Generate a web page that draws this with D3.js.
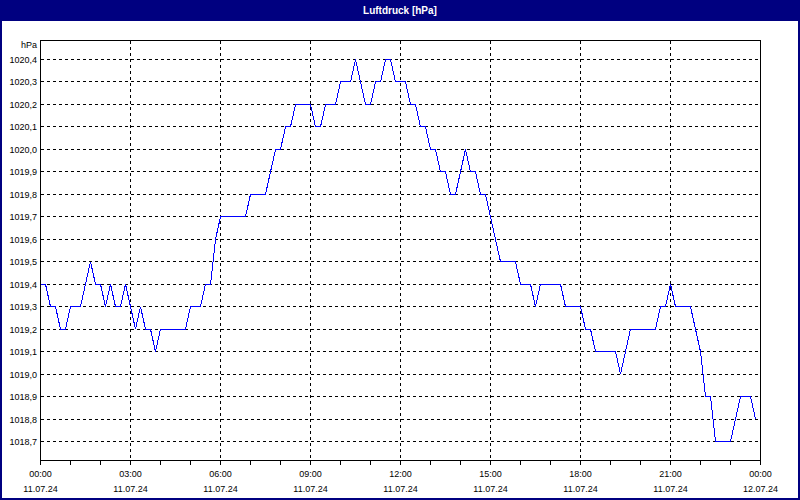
<!DOCTYPE html>
<html><head><meta charset="utf-8">
<script src="https://cdn.jsdelivr.net/npm/d3@7"></script>
<style>html,body{margin:0;padding:0;background:#fff;} svg{display:block}</style>
</head><body>
<svg id="chart" width="800" height="500"></svg>
<script>
const title = "Luftdruck [hPa]";
const unitLabel = "hPa";
const startTime = new Date(2024, 6, 11, 0, 0);
const endTime = new Date(2024, 6, 12, 0, 0);
// pressure readings every 10 minutes, 00:00 .. 23:50
const pressure = [
  1019.4,1019.4,1019.3,1019.3,1019.2,1019.2,1019.3,1019.3,1019.3,1019.4,1019.5,1019.4,
  1019.4,1019.3,1019.4,1019.3,1019.3,1019.4,1019.3,1019.2,1019.3,1019.2,1019.2,1019.1,
  1019.2,1019.2,1019.2,1019.2,1019.2,1019.2,1019.3,1019.3,1019.3,1019.4,1019.4,1019.6,
  1019.7,1019.7,1019.7,1019.7,1019.7,1019.7,1019.8,1019.8,1019.8,1019.8,1019.9,1020.0,
  1020.0,1020.1,1020.1,1020.2,1020.2,1020.2,1020.2,1020.1,1020.1,1020.2,1020.2,1020.2,
  1020.3,1020.3,1020.3,1020.4,1020.3,1020.2,1020.2,1020.3,1020.3,1020.4,1020.4,1020.3,
  1020.3,1020.3,1020.2,1020.2,1020.1,1020.1,1020.0,1020.0,1019.9,1019.9,1019.8,1019.8,
  1019.9,1020.0,1019.9,1019.9,1019.8,1019.8,1019.7,1019.6,1019.5,1019.5,1019.5,1019.5,
  1019.4,1019.4,1019.4,1019.3,1019.4,1019.4,1019.4,1019.4,1019.4,1019.3,1019.3,1019.3,
  1019.3,1019.2,1019.2,1019.1,1019.1,1019.1,1019.1,1019.1,1019.0,1019.1,1019.2,1019.2,
  1019.2,1019.2,1019.2,1019.2,1019.3,1019.3,1019.4,1019.3,1019.3,1019.3,1019.3,1019.2,
  1019.1,1018.9,1018.9,1018.7,1018.7,1018.7,1018.7,1018.8,1018.9,1018.9,1018.9,1018.8
];
const yTicks = [1018.7,1018.8,1018.9,1019.0,1019.1,1019.2,1019.3,1019.4,1019.5,1019.6,1019.7,1019.8,1019.9,1020.0,1020.1,1020.2,1020.3,1020.4];
const xTimeLabels = ["00:00","03:00","06:00","09:00","12:00","15:00","18:00","21:00","00:00"];
const xDateLabels = ["11.07.24","11.07.24","11.07.24","11.07.24","11.07.24","11.07.24","11.07.24","11.07.24","12.07.24"];

const sampleTimes = d3.timeMinute.every(10).range(startTime, endTime);
const data = pressure.map((v, i) => ({t: sampleTimes[i], v}));

const svg = d3.select("#chart");
const font = "'Liberation Sans', Arial, sans-serif";
const L = 40.5, R = 760.5, T = 40.5, B = 460.5;

const x = d3.scaleTime().domain([startTime, endTime]).range([L, R]);
const y = d3.scaleLinear().domain([1018.6154, 1020.4846]).range([B, T]);
const locale = d3.formatLocale({decimal: ",", thousands: "", grouping: [3], currency: ["", ""]});
const fmt = locale.format(".1f");

svg.append("rect").attr("width", 800).attr("height", 500).attr("fill", "#fff");

// horizontal dashed gridlines
svg.append("g").selectAll("line").data(yTicks).join("line")
  .attr("x1", L).attr("x2", R)
  .attr("y1", d => Math.round(y(d) - 0.5) + 0.5).attr("y2", d => Math.round(y(d) - 0.5) + 0.5)
  .attr("stroke", "#000").attr("stroke-dasharray", "3,3").attr("shape-rendering", "crispEdges");

// vertical dashed gridlines every 3 hours
const xMajor = d3.timeHour.every(3).range(startTime, new Date(+endTime + 1));
svg.append("g").selectAll("line").data(xMajor.slice(1, -1)).join("line")
  .attr("x1", d => x(d)).attr("x2", d => x(d)).attr("y1", T).attr("y2", B)
  .attr("stroke", "#000").attr("stroke-dasharray", "3,3").attr("shape-rendering", "crispEdges");

// hourly tick marks below
const hours = d3.timeHour.every(1).range(startTime, new Date(+endTime + 1));
svg.append("g").selectAll("line").data(hours).join("line")
  .attr("x1", d => x(d)).attr("x2", d => x(d)).attr("y1", B).attr("y2", B + 4)
  .attr("stroke", "#000").attr("shape-rendering", "crispEdges");

// frame
svg.append("rect").attr("x", L).attr("y", T).attr("width", R - L).attr("height", B - T)
  .attr("fill", "none").attr("stroke", "#000").attr("shape-rendering", "crispEdges");

// line
const line = d3.line().x(d => x(d.t)).y(d => y(d.v));
svg.append("path").datum(data).attr("d", line)
  .attr("fill", "none").attr("stroke", "#0000ff").attr("stroke-width", 1)
  .attr("shape-rendering", "crispEdges");

// y labels
svg.append("g").selectAll("text").data(yTicks).join("text")
  .attr("x", 37).attr("y", d => y(d) + 3.5)
  .attr("text-anchor", "end").attr("font-family", font).attr("font-size", 9).attr("fill", "#000")
  .text(d => fmt(d));
svg.append("text").attr("x", 37).attr("y", 48).attr("text-anchor", "end")
  .attr("font-family", font).attr("font-size", 9).attr("fill", "#000").text(unitLabel);

// x labels
const xl = svg.append("g").selectAll("g").data(xMajor).join("g")
  .attr("transform", d => `translate(${x(d)},0)`);
xl.append("text").attr("y", 477).attr("text-anchor", "middle")
  .attr("font-family", font).attr("font-size", 9).attr("fill", "#000")
  .text((d, i) => xTimeLabels[i]);
xl.append("text").attr("y", 492).attr("text-anchor", "middle")
  .attr("font-family", font).attr("font-size", 9).attr("fill", "#000")
  .text((d, i) => xDateLabels[i]);

// title bar and border
svg.append("rect").attr("x", 0).attr("y", 0).attr("width", 800).attr("height", 21).attr("fill", "#000080");
svg.append("text").attr("x", 400).attr("y", 14).attr("text-anchor", "middle")
  .attr("font-family", font).attr("font-size", 10).attr("font-weight", "bold").attr("fill", "#fff")
  .text(title);
svg.append("rect").attr("x", 1).attr("y", 1).attr("width", 798).attr("height", 498)
  .attr("fill", "none").attr("stroke", "#000080").attr("stroke-width", 2);
</script>
</body></html>
